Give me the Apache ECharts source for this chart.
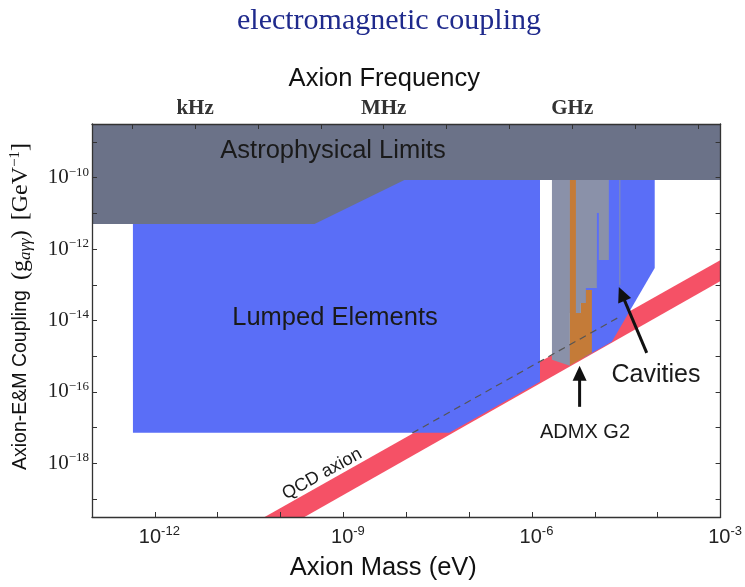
<!DOCTYPE html>
<html><head><meta charset="utf-8">
<script src="https://cdn.jsdelivr.net/npm/echarts@6/dist/echarts.min.js"></script>
<style>html,body{margin:0;padding:0;background:#fff}#c{width:745px;height:587px}</style>
</head><body><div id="c"></div>
<script>
// All values are log10 exponents: x = log10(axion mass / eV), y = log10(g_aγγ / GeV^-1)
const massTicks = [-13, -12, -11, -10, -9, -8, -7, -6, -5, -4, -3];
const massLabels = [-12, -9, -6, -3];
const couplingTicks = [-19, -18, -17, -16, -15, -14, -13, -12, -11, -10, -9];
const couplingLabels = [-18, -16, -14, -12, -10];
const freqTicks = [-12.36, -11.36, -10.36, -9.36, -8.36, -7.36, -6.36, -5.36, -4.36, -3.36];
const freqLabelPos = [-11.36, -8.36, -5.36];
const freqLabelText = ['kHz', 'MHz', 'GHz'];

// region outlines [mass, coupling]
const qcdBand = [[-10.254, -19.5], [-9.619, -19.5], [-3, -12.892], [-3, -12.304]];
const lumpedRegion = [[-12.349, -10.07], [-5.873, -10.07], [-5.873, -15.717], [-7.317, -17.143], [-12.349, -17.143]];
const astroRegion = [[-13, -8.5], [-3, -8.5], [-3, -10.07], [-8.03, -10.07], [-9.46, -11.30], [-13, -11.30]];
const cavityRegion = [[-5.175, -10.07], [-4.048, -10.07], [-4.048, -12.528], [-4.730, -14.598], [-5.175, -15.037]];
const cavityExpRegion = [[-5.683, -10.07], [-4.778, -10.07], [-4.778, -12.304], [-4.968, -12.304], [-4.968, -13.087],
  [-5.143, -13.087], [-5.143, -13.507], [-5.222, -13.507], [-5.222, -13.787], [-5.397, -13.787], [-5.397, -15.269], [-5.683, -15.10]];
const cavitySliver = [[-4.968, -10.99], [-4.937, -10.99], [-4.937, -13.06], [-4.968, -13.06]];
const cavityLine = [[-4.603, -10.07], [-4.603, -13.0]];
const admxRegion = [[-5.397, -10.07], [-5.302, -10.07], [-5.302, -13.787], [-5.222, -13.787], [-5.222, -13.507],
  [-5.143, -13.507], [-5.143, -13.143], [-5.048, -13.143], [-5.048, -14.906], [-5.397, -15.255]];
const qcdDashed = [[-7.905, -17.15], [-4.62, -13.91]];
const cavitiesArrow = [[-4.175, -14.906], [-4.619, -13.059]];
const admxArrow = [[-5.243, -16.416], [-5.243, -15.269]];

const SANS = 'Liberation Sans, Arial, sans-serif';
const SERIF = 'Liberation Serif, Times New Roman, serif';

function polySeries(name, pts, color, z) {
  return {
    type: 'custom', name: name, data: pts, z: z, silent: true,
    renderItem: function (params, api) {
      if (params.dataIndex !== 0) return;
      return { type: 'polygon', shape: { points: pts.map(function (p) { return api.coord(p); }) }, style: { fill: color } };
    }
  };
}
function arrowSeries(name, pts) {
  return {
    type: 'custom', name: name, data: pts, z: 9, silent: true,
    renderItem: function (params, api) {
      if (params.dataIndex !== 0) return;
      const a = api.coord(pts[0]), b = api.coord(pts[1]);
      const dx = b[0] - a[0], dy = b[1] - a[1], L = Math.hypot(dx, dy), ux = dx / L, uy = dy / L;
      const hl = 15, hw = 7;
      const base = [b[0] - ux * hl, b[1] - uy * hl];
      return { type: 'group', children: [
        { type: 'line', shape: { x1: a[0], y1: a[1], x2: base[0] + ux * 2, y2: base[1] + uy * 2 }, style: { stroke: '#111', lineWidth: 3 } },
        { type: 'polygon', shape: { points: [b, [base[0] - uy * hw, base[1] + ux * hw], [base[0] + uy * hw, base[1] - ux * hw]] }, style: { fill: '#111' } }
      ] };
    }
  };
}
function freqName(v) {
  let best = 0;
  for (let i = 1; i < freqLabelPos.length; i++) {
    if (Math.abs(freqLabelPos[i] - v) < Math.abs(freqLabelPos[best] - v)) best = i;
  }
  return freqLabelText[best];
}

const axisLineStyle = { show: true, lineStyle: { color: '#333', width: 1.3 } };
const tickStyle = { inside: true, length: 5, lineStyle: { color: '#333', width: 1 } };

const chart = echarts.init(document.getElementById('c'));
chart.setOption({
  animation: false,
  backgroundColor: '#fff',
  title: {
    text: 'electromagnetic coupling', left: 232, top: 1,
    textStyle: { fontFamily: SERIF, fontSize: 30, fontWeight: 'normal', color: '#1f2a8c' }
  },
  grid: { left: 92, right: 23, top: 124, bottom: 70 },
  xAxis: [{
    type: 'value', position: 'bottom', min: -13, max: -3, z: 20,
    axisLine: axisLineStyle, splitLine: { show: false },
    axisTick: Object.assign({ customValues: massTicks }, tickStyle),
    axisLabel: {
      customValues: massLabels, margin: 8, padding: [0, 0, 0, 9],
      formatter: function (v) { return '{b|10}{s|' + String(v) + '}'; },
      rich: {
        b: { fontFamily: SANS, fontSize: 20, color: '#222', lineHeight: 24 },
        s: { fontFamily: SANS, fontSize: 13, color: '#222', verticalAlign: 'top', lineHeight: 14 }
      }
    },
    name: 'Axion Mass (eV)', nameLocation: 'middle', nameGap: 38,
    nameTextStyle: { fontFamily: SANS, fontSize: 25.5, color: '#111', padding: [0, 46, 0, 0] }
  }, {
    type: 'value', position: 'top', min: -13, max: -3, z: 20,
    axisLine: axisLineStyle, splitLine: { show: false },
    axisTick: Object.assign({ customValues: freqTicks }, tickStyle),
    axisLabel: {
      show: true, customValues: freqLabelPos, margin: 5,
      formatter: function (v) { return freqName(v); },
      fontFamily: SERIF, fontSize: 21, fontWeight: 'bold', color: '#333'
    },
    name: 'Axion Frequency', nameLocation: 'middle', nameGap: 32,
    nameTextStyle: { fontFamily: SANS, fontSize: 25.5, color: '#111', padding: [0, 44, 0, 0] }
  }],
  yAxis: [{
    type: 'value', position: 'left', min: -19.5, max: -8.5, z: 20,
    axisLine: axisLineStyle, splitLine: { show: false },
    axisTick: Object.assign({ customValues: couplingTicks }, tickStyle),
    axisLabel: {
      customValues: couplingLabels, margin: 3,
      formatter: function (v) { return '{b|10}{s|\u2212' + String(-v) + '}'; },
      rich: {
        b: { fontFamily: SERIF, fontSize: 21, color: '#222', lineHeight: 24 },
        s: { fontFamily: SERIF, fontSize: 13, color: '#222', verticalAlign: 'top', lineHeight: 14 }
      }
    },
    name: '{a|Axion-E&M Coupling}   {g|(g}{sub|a\u03b3\u03b3}{g|)}   {g|[GeV}{sup|\u22121}{g|]}',
    nameLocation: 'middle', nameRotate: 90, nameGap: 58,
    nameTextStyle: {
      padding: [0, 0, 0, 28],
      rich: {
        a: { fontFamily: SANS, fontSize: 19.5, color: '#111', lineHeight: 26 },
        g: { fontFamily: SERIF, fontSize: 24, color: '#111', lineHeight: 26 },
        sub: { fontFamily: SERIF, fontStyle: 'italic', fontSize: 17, color: '#111', verticalAlign: 'bottom', lineHeight: 17 },
        sup: { fontFamily: SERIF, fontSize: 15, color: '#111', verticalAlign: 'top', lineHeight: 15 }
      }
    }
  }, {
    type: 'value', position: 'right', min: -19.5, max: -8.5, z: 20,
    axisLine: axisLineStyle, splitLine: { show: false },
    axisTick: Object.assign({ customValues: couplingTicks }, tickStyle),
    axisLabel: { show: false }
  }],
  series: [
    polySeries('QCD axion', qcdBand, '#f55166', 1),
    polySeries('Lumped Elements', lumpedRegion, '#5a6ef7', 2),
    polySeries('Astrophysical Limits', astroRegion, '#6b7288', 3),
    polySeries('Cavities', cavityRegion, '#5a6ef7', 4),
    polySeries('Cavity experiments', cavityExpRegion, '#8a91a9', 5),
    polySeries('Cavity sliver', cavitySliver, '#5a6ef7', 6),
    polySeries('ADMX G2', admxRegion, '#c47b38', 7),
    { type: 'line', name: 'cavity edge', data: cavityLine, z: 6, symbol: 'none', silent: true,
      lineStyle: { color: '#8a91a9', width: 1 } },
    { type: 'line', name: 'QCD line', data: qcdDashed, z: 8, symbol: 'none', silent: true,
      lineStyle: { color: '#555', width: 1.2, type: [7, 5] } },
    arrowSeries('Cavities arrow', cavitiesArrow),
    arrowSeries('ADMX arrow', admxArrow)
  ],
  graphic: [
    { type: 'text', x: 333, y: 151, z: 50, style: { text: 'Astrophysical Limits', fontFamily: SANS, fontSize: 25.5, fill: '#1a1a1a', align: 'center', verticalAlign: 'middle' } },
    { type: 'text', x: 335, y: 318, z: 50, style: { text: 'Lumped Elements', fontFamily: SANS, fontSize: 25.5, fill: '#1a1a1a', align: 'center', verticalAlign: 'middle' } },
    { type: 'text', x: 656, y: 375, z: 50, style: { text: 'Cavities', fontFamily: SANS, fontSize: 25, fill: '#1a1a1a', align: 'center', verticalAlign: 'middle' } },
    { type: 'text', x: 585, y: 432, z: 50, style: { text: 'ADMX G2', fontFamily: SANS, fontSize: 20, fill: '#1a1a1a', align: 'center', verticalAlign: 'middle' } },
    { type: 'text', x: 322, y: 474, z: 50, rotation: 29 * Math.PI / 180, style: { text: 'QCD axion', fontFamily: SANS, fontSize: 18, fill: '#1a1a1a', align: 'center', verticalAlign: 'middle' } }
  ]
});
</script></body></html>
